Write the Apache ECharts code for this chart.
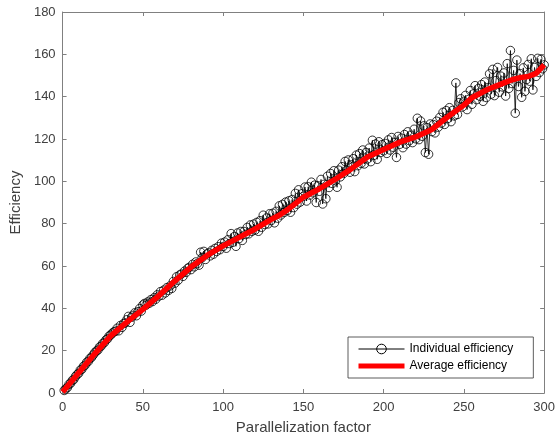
<!DOCTYPE html>
<html>
<head>
<meta charset="utf-8">
<script src="https://cdn.jsdelivr.net/npm/echarts@6/dist/echarts.min.js"></script>
<style>html,body{margin:0;padding:0;background:#fff}#c{width:558px;height:440px}</style>
</head>
<body>
<div id="c"></div>
<script>
// Individual efficiency, x = 1..300
const individual = [
1.2,2.0,2.6,4.1,4.6,5.9,6.4,7.8,8.7,9.3,
10.8,11.2,12.6,13.1,14.5,14.9,16.3,16.8,17.9,19.0,
19.8,20.3,21.7,22.1,23.4,23.8,25.1,25.6,26.9,27.4,
28.3,28.9,29.2,30.6,29.4,31.9,31.0,32.8,33.1,34.6,
36.2,33.4,35.8,36.7,37.9,36.5,38.4,39.9,38.7,41.6,
42.3,41.5,43.0,42.4,44.1,43.2,45.0,44.3,46.4,45.8,
47.9,46.2,48.6,47.3,49.8,48.5,50.6,49.4,52.7,51.9,
54.9,53.3,55.8,56.2,55.1,57.6,57.0,58.9,59.4,58.3,
60.8,59.6,61.9,61.2,60.4,66.5,64.0,66.9,63.1,65.7,
66.2,64.8,67.4,65.6,68.3,66.9,69.1,67.7,70.8,69.2,
71.3,68.4,72.4,70.6,75.3,71.2,73.9,69.3,75.6,73.0,
76.3,72.1,76.3,74.9,78.2,75.2,79.4,76.4,79.8,77.0,
80.6,76.4,81.4,78.3,84.0,79.6,82.7,79.9,84.7,81.5,
84.9,80.4,85.8,82.6,88.4,84.1,89.1,85.3,90.2,86.2,
90.8,85.4,91.4,87.6,94.3,89.2,96.0,90.2,94.1,92.9,
97.3,90.7,97.4,93.5,99.6,94.6,98.2,90.0,97.9,95.3,
100.9,89.3,98.6,91.8,102.4,97.1,103.7,99.0,105.0,100.3,
97.2,105.3,102.1,106.9,103.7,109.4,105.2,110.1,104.3,107.8,
110.7,104.6,112.4,107.4,113.1,108.5,114.8,108.2,113.6,110.6,
115.7,109.3,119.4,112.3,117.6,110.4,118.7,113.6,117.3,114.4,
117.9,113.2,119.6,114.8,120.7,116.1,118.4,111.3,121.2,117.5,
120.4,115.9,122.1,117.6,123.4,119.2,121.8,118.3,124.6,120.1,
129.8,119.7,128.5,121.3,126.2,113.6,125.4,112.8,127.1,123.5,
126.8,122.9,128.4,125.6,130.2,127.5,132.6,126.9,133.4,129.7,
134.8,128.2,133.5,130.9,146.5,131.6,137.2,139.0,135.1,137.8,
140.6,133.9,138.7,142.9,136.4,141.3,145.2,138.6,143.8,140.2,
145.7,137.8,146.9,139.6,144.3,150.8,141.2,152.9,140.5,147.6,
153.8,142.1,149.7,144.6,151.2,140.3,155.6,143.9,161.8,146.2,
152.4,132.2,157.3,144.8,150.9,139.7,153.6,142.5,148.1,155.2,
147.3,157.9,143.2,153.8,149.6,158.1,151.4,157.6,153.2,155.0
];
// Average efficiency read at these x positions
const avgX = [0,10,20,30,40,50,60,70,80,90,100,110,120,130,135,140,145,150,160,170,180,190,200,210,220,230,240,250,255,260,265,270,275,280,285,290,295,300];
const avgY = [0.5,9.5,18.5,27,33.5,39.5,46,53,59.5,65,69.5,73.5,77.5,82,84,86.5,89.5,92.5,96.5,101,106,111.5,115,118.5,121,124.5,130.5,136,139.5,141.5,143.5,145,146.5,148,149,149.5,151,155];
const xTicks = [0,50,100,150,200,250,300];
const yTicks = [0,20,40,60,80,100,120,140,160,180];

const indData = individual.map((v,i)=>[i+1,v]);
const avgData = avgX.map((x,i)=>[x,avgY[i]]);

const axisColor = '#808080';
const labelColor = '#404040';
const font = 'Liberation Sans, Arial, sans-serif';

const boxAxis = {
  axisLine:{show:true,onZero:false,lineStyle:{color:axisColor,width:1}},
  axisTick:{show:true,inside:true,length:4,lineStyle:{color:axisColor}},
  axisLabel:{show:false}, splitLine:{show:false}
};

const chart = echarts.init(document.getElementById('c'), null, {renderer:'canvas'});
chart.setOption({
  animation:false,
  backgroundColor:'#fff',
  grid:{left:61,right:13,top:12,bottom:47,containLabel:false},
  legend:{
    left:348, top:337, orient:'vertical',
    backgroundColor:'#fff', borderColor:'#333', borderWidth:0.8,
    padding:[6,20,6,8], itemGap:5, itemWidth:46, itemHeight:12,
    textStyle:{fontFamily:font,fontSize:12,color:'#000'},
    data:[
      {name:'Individual efficiency', lineStyle:{width:1}, itemStyle:{borderWidth:1}},
      {name:'Average efficiency', lineStyle:{width:5}}
    ]
  },
  xAxis:[Object.assign({
    type:'value', min:xTicks[0], max:xTicks[xTicks.length-1], interval:50,
    name:'Parallelization factor', nameLocation:'middle', nameGap:27,
    nameTextStyle:{fontFamily:font,fontSize:15,color:labelColor}
  }, boxAxis, {axisLabel:{show:true,fontFamily:font,fontSize:13,color:labelColor,margin:8}}),
  Object.assign({type:'value', position:'top', min:0, max:300, interval:50}, boxAxis)],
  yAxis:[Object.assign({
    type:'value', min:yTicks[0], max:yTicks[yTicks.length-1], interval:20,
    name:'Efficiency', nameLocation:'middle', nameGap:33,
    nameTextStyle:{fontFamily:font,fontSize:15,color:labelColor}
  }, boxAxis, {axisLabel:{show:true,fontFamily:font,fontSize:13,color:labelColor,margin:7}}),
  Object.assign({type:'value', position:'right', min:0, max:180, interval:20}, boxAxis)],
  series:[{
    name:'Individual efficiency', type:'line', data:indData,
    xAxisIndex:0, yAxisIndex:0, z:2,
    symbol:'circle', symbolSize:8.5, showAllSymbol:true,
    lineStyle:{color:'#000',width:0.8},
    itemStyle:{color:'rgba(255,255,255,0)',borderColor:'#000',borderWidth:0.8},
    emphasis:{disabled:true}
  },{
    name:'Average efficiency', type:'line', data:avgData,
    xAxisIndex:0, yAxisIndex:0, z:5,
    symbol:'none', smooth:false,
    lineStyle:{color:'#ff0000',width:5.5},
    itemStyle:{color:'rgba(0,0,0,0)',borderWidth:0},
    emphasis:{disabled:true}
  }]
});
</script>
</body>
</html>
